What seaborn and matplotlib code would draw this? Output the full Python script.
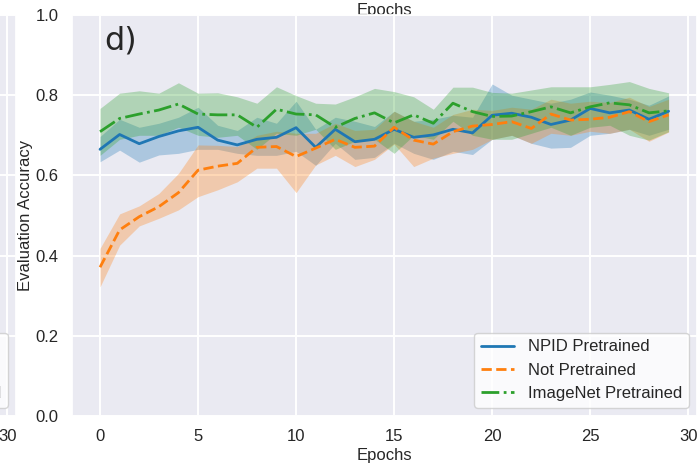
import numpy as np
import pandas as pd
import matplotlib
matplotlib.use("Agg")
import matplotlib.pyplot as plt
import seaborn as sns

# ---------------- data ----------------
epochs = list(range(30))

npid_mean = [0.665, 0.702, 0.679, 0.697, 0.711, 0.720, 0.688, 0.676, 0.690, 0.695,
             0.719, 0.670, 0.715, 0.684, 0.690, 0.715, 0.695, 0.701, 0.715, 0.706,
             0.750, 0.755, 0.745, 0.727, 0.738, 0.767, 0.756, 0.763, 0.740, 0.760]
npid_upper = [0.697, 0.740, 0.720, 0.730, 0.745, 0.770, 0.725, 0.712, 0.745, 0.730,
              0.785, 0.715, 0.745, 0.735, 0.722, 0.760, 0.735, 0.740, 0.750, 0.745,
              0.828, 0.800, 0.790, 0.780, 0.790, 0.808, 0.800, 0.790, 0.775, 0.798]
npid_lower = [0.634, 0.663, 0.633, 0.651, 0.655, 0.665, 0.665, 0.655, 0.650, 0.650,
              0.660, 0.625, 0.680, 0.640, 0.645, 0.680, 0.655, 0.640, 0.660, 0.652,
              0.690, 0.700, 0.680, 0.668, 0.670, 0.700, 0.705, 0.715, 0.700, 0.715]

notpre_mean = [0.371, 0.464, 0.497, 0.522, 0.557, 0.613, 0.623, 0.630, 0.670, 0.672,
               0.647, 0.668, 0.690, 0.670, 0.673, 0.720, 0.688, 0.678, 0.709, 0.723,
               0.727, 0.734, 0.717, 0.753, 0.738, 0.740, 0.745, 0.759, 0.734, 0.751]
notpre_upper = [0.418, 0.504, 0.524, 0.555, 0.605, 0.676, 0.675, 0.672, 0.700, 0.710,
                0.705, 0.705, 0.730, 0.712, 0.715, 0.760, 0.735, 0.720, 0.752, 0.765,
                0.762, 0.770, 0.765, 0.790, 0.780, 0.785, 0.782, 0.795, 0.772, 0.790]
notpre_lower = [0.322, 0.426, 0.474, 0.493, 0.514, 0.547, 0.564, 0.584, 0.618, 0.618,
                0.557, 0.626, 0.650, 0.622, 0.640, 0.678, 0.622, 0.643, 0.655, 0.665,
                0.690, 0.700, 0.680, 0.705, 0.700, 0.710, 0.705, 0.715, 0.685, 0.708]

imnet_mean = [0.709, 0.742, 0.753, 0.763, 0.778, 0.753, 0.751, 0.751, 0.720, 0.765,
              0.753, 0.751, 0.720, 0.742, 0.756, 0.731, 0.751, 0.730, 0.780, 0.759,
              0.747, 0.748, 0.759, 0.771, 0.756, 0.771, 0.781, 0.776, 0.756, 0.761]
imnet_upper = [0.767, 0.805, 0.811, 0.805, 0.831, 0.805, 0.806, 0.796, 0.780, 0.821,
               0.799, 0.780, 0.778, 0.796, 0.817, 0.809, 0.796, 0.765, 0.820, 0.820,
               0.807, 0.805, 0.813, 0.821, 0.821, 0.821, 0.827, 0.834, 0.817, 0.806]
imnet_lower = [0.650, 0.690, 0.700, 0.700, 0.720, 0.700, 0.695, 0.700, 0.665, 0.705,
               0.700, 0.715, 0.665, 0.685, 0.690, 0.655, 0.700, 0.690, 0.735, 0.700,
               0.690, 0.690, 0.705, 0.720, 0.700, 0.720, 0.725, 0.700, 0.688, 0.709]

series_names = ["NPID Pretrained", "Not Pretrained", "ImageNet Pretrained"]
x_ticks = [0, 5, 10, 15, 20, 25, 30]
y_ticks = [0.0, 0.2, 0.4, 0.6, 0.8, 1.0]

# ---------------- style ----------------
sns.set_theme(context="notebook", style="darkgrid")
plt.rcParams["font.family"] = ["Liberation Sans", "DejaVu Sans"]
plt.rcParams["grid.linewidth"] = 1.4

colors = ["#1f77b4", "#ff7f0e", "#2ca02c"]
styles = ["-", "--", "-."]
means = [npid_mean, notpre_mean, imnet_mean]
uppers = [npid_upper, notpre_upper, imnet_upper]
lowers = [npid_lower, notpre_lower, imnet_lower]

fig = plt.figure(figsize=(7.0, 4.66), dpi=100)
W, H = 700.0, 466.0
ax_w, ax_h = 625.4, 401.0
bottom = (H - 416.0) / H

# partially visible neighbouring subplot at the left
ax_left = fig.add_axes([(16.0 - ax_w) / W, bottom, ax_w / W, ax_h / H])
# main subplot d)
ax = fig.add_axes([71.6 / W, bottom, ax_w / W, ax_h / H])


def draw(a):
    for name, m, up, lo, c, ls in zip(series_names, means, uppers, lowers, colors, styles):
        sns.lineplot(x=epochs, y=m, ax=a, color=c, linestyle=ls, linewidth=2.0, label=name)
        a.fill_between(epochs, lo, up, color=c, alpha=0.3, linewidth=0)
    a.set_xlim(-1.45, 30.45)
    a.set_ylim(0.0, 1.0)
    a.set_xticks(x_ticks)
    a.set_yticks(y_ticks)
    a.set_xticklabels([str(t) for t in x_ticks])
    a.set_yticklabels([f"{t:.1f}" for t in y_ticks])
    a.tick_params(labelsize=12)
    a.set_xlabel("Epochs", fontsize=12, labelpad=3)
    a.set_ylabel("Evaluation Accuracy", fontsize=12, labelpad=2)
    a.legend(loc="lower right", fontsize=12, facecolor="white", framealpha=0.8,
             edgecolor="#cccccc")


draw(ax_left)
draw(ax)

ax.text(0.053, 0.915, "d)", transform=ax.transAxes, fontsize=23,
        family="DejaVu Sans", ha="left", va="baseline")

# x label of the subplot above, cut off by the top edge
fig.text(384.0 / W, (H - 14.5) / H, "Epochs", ha="center", va="baseline",
         fontsize=12, color="#262626", zorder=-1)

fig.savefig("out.png", dpi=100)
